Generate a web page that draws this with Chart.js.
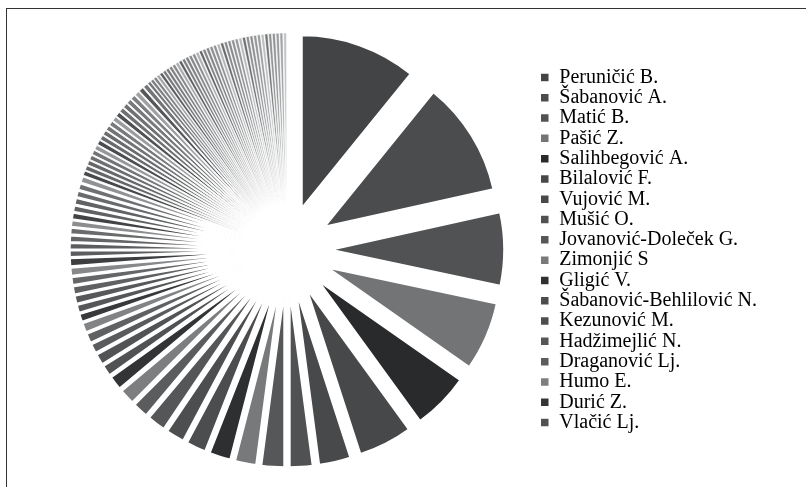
<!DOCTYPE html>
<html>
<head>
<meta charset="utf-8">
<script src="https://cdn.jsdelivr.net/npm/chart.js@4.4.1/dist/chart.umd.min.js"></script>
<style>
    html, body { margin: 0; padding: 0; background: #fff; overflow: hidden; }
    #frame {
        position: absolute; left: 6px; top: 8px; width: 900px; height: 600px;
        border-top: 1px solid #333; border-left: 1px solid #333;
    }
    #wrap { position: absolute; left: 0; top: 0; width: 806px; height: 487px; }
</style>
</head>
<body>
<div id="frame"></div>
<div id="wrap"><canvas id="authorsPie"></canvas></div>
<script>
// Authors shown in the legend (the rest of the slices have no legend entry)
const authors = [
    'Peruničić B.', 'Šabanović A.', 'Matić B.', 'Pašić Z.', 'Salihbegović A.',
    'Bilalović F.', 'Vujović M.', 'Mušić O.', 'Jovanović-Doleček G.', 'Zimonjić S',
    'Gligić V.', 'Šabanović-Behlilović N.', 'Kezunović M.', 'Hadžimejlić N.',
    'Draganović Lj.', 'Humo E.', 'Durić Z.', 'Vlačić Lj.'
];

// Values for the named authors
const topCounts = [78, 77, 49, 46, 38, 36, 21, 15, 15, 14, 14, 13, 12, 12, 10, 10, 9, 7];

// Values for the remaining (unnamed) authors
const otherCounts = [
    7, 6, 6, 6, 5, 5, 5, 5, 5, 5, 5,
    4, 4, 4, 4, 4, 4, 4, 4, 4, 4, 4,
    3, 3, 3, 3, 3, 3, 3, 3, 3, 3, 3, 3, 3, 3, 3, 3, 3, 3, 3, 3,
    2, 2, 2, 2, 2, 2, 2, 2, 2, 2, 2, 2, 2, 2, 2, 2, 2, 2, 2, 2,
    2, 2, 2, 2, 2, 2, 2, 2, 2, 2, 2, 2, 2, 2, 2, 2, 2, 2, 2, 2
];

const counts = topCounts.concat(otherCounts);

// Monochrome palette: six shades that repeat, getting a little lighter each round
const shadeBase = [0x42, 0x4a, 0x50, 0x72, 0x28, 0x46];
const EXPLODE = 45; // px every slice is pulled out from the centre

function shade(i) {
    const l = Math.min(shadeBase[i % 6] + Math.floor(i / 6) * 5, 200);
    return `rgb(${l}, ${l + 2}, ${l + 4})`;
}

// Arc that is pushed out along its middle angle without growing its radius
class ExplodedArc extends Chart.ArcElement {
    static id = 'explodedArc';
    draw(ctx) {
        const mid = (this.startAngle + this.endAngle) / 2;
        ctx.save();
        ctx.translate(Math.cos(mid) * EXPLODE, Math.sin(mid) * EXPLODE);
        super.draw(ctx);
        ctx.restore();
    }
}

class ExplodedPie extends Chart.PieController {
    static id = 'explodedPie';
    static defaults = { dataElementType: 'explodedArc' };
}

Chart.register(ExplodedArc, ExplodedPie);

const ctx = document.getElementById('authorsPie').getContext('2d');
new Chart(ctx, {
    type: 'explodedPie',
    data: {
        labels: authors,
        datasets: [{
            data: counts,
            backgroundColor: counts.map((v, i) => shade(i)),
            borderColor: '#ffffff',
            // thinner white edges on the narrow slices so they stay visible
            borderWidth: (c) => (c.raw >= 4 ? 1.5 : c.raw >= 3 ? 0.9 : 0.6),
            radius: 172
        }]
    },
    options: {
        responsive: true,
        maintainAspectRatio: false,
        animation: false,
        layout: {
            padding: { left: 34, right: 39, top: 13, bottom: 0 }
        },
        plugins: {
            tooltip: { enabled: false },
            legend: {
                position: 'right',
                align: 'center',
                labels: {
                    boxWidth: 9,
                    boxHeight: 9,
                    padding: 0.3,
                    color: '#000',
                    font: {
                        family: 'Liberation Serif',
                        size: 20
                    }
                }
            }
        }
    }
});
</script>
</body>
</html>
